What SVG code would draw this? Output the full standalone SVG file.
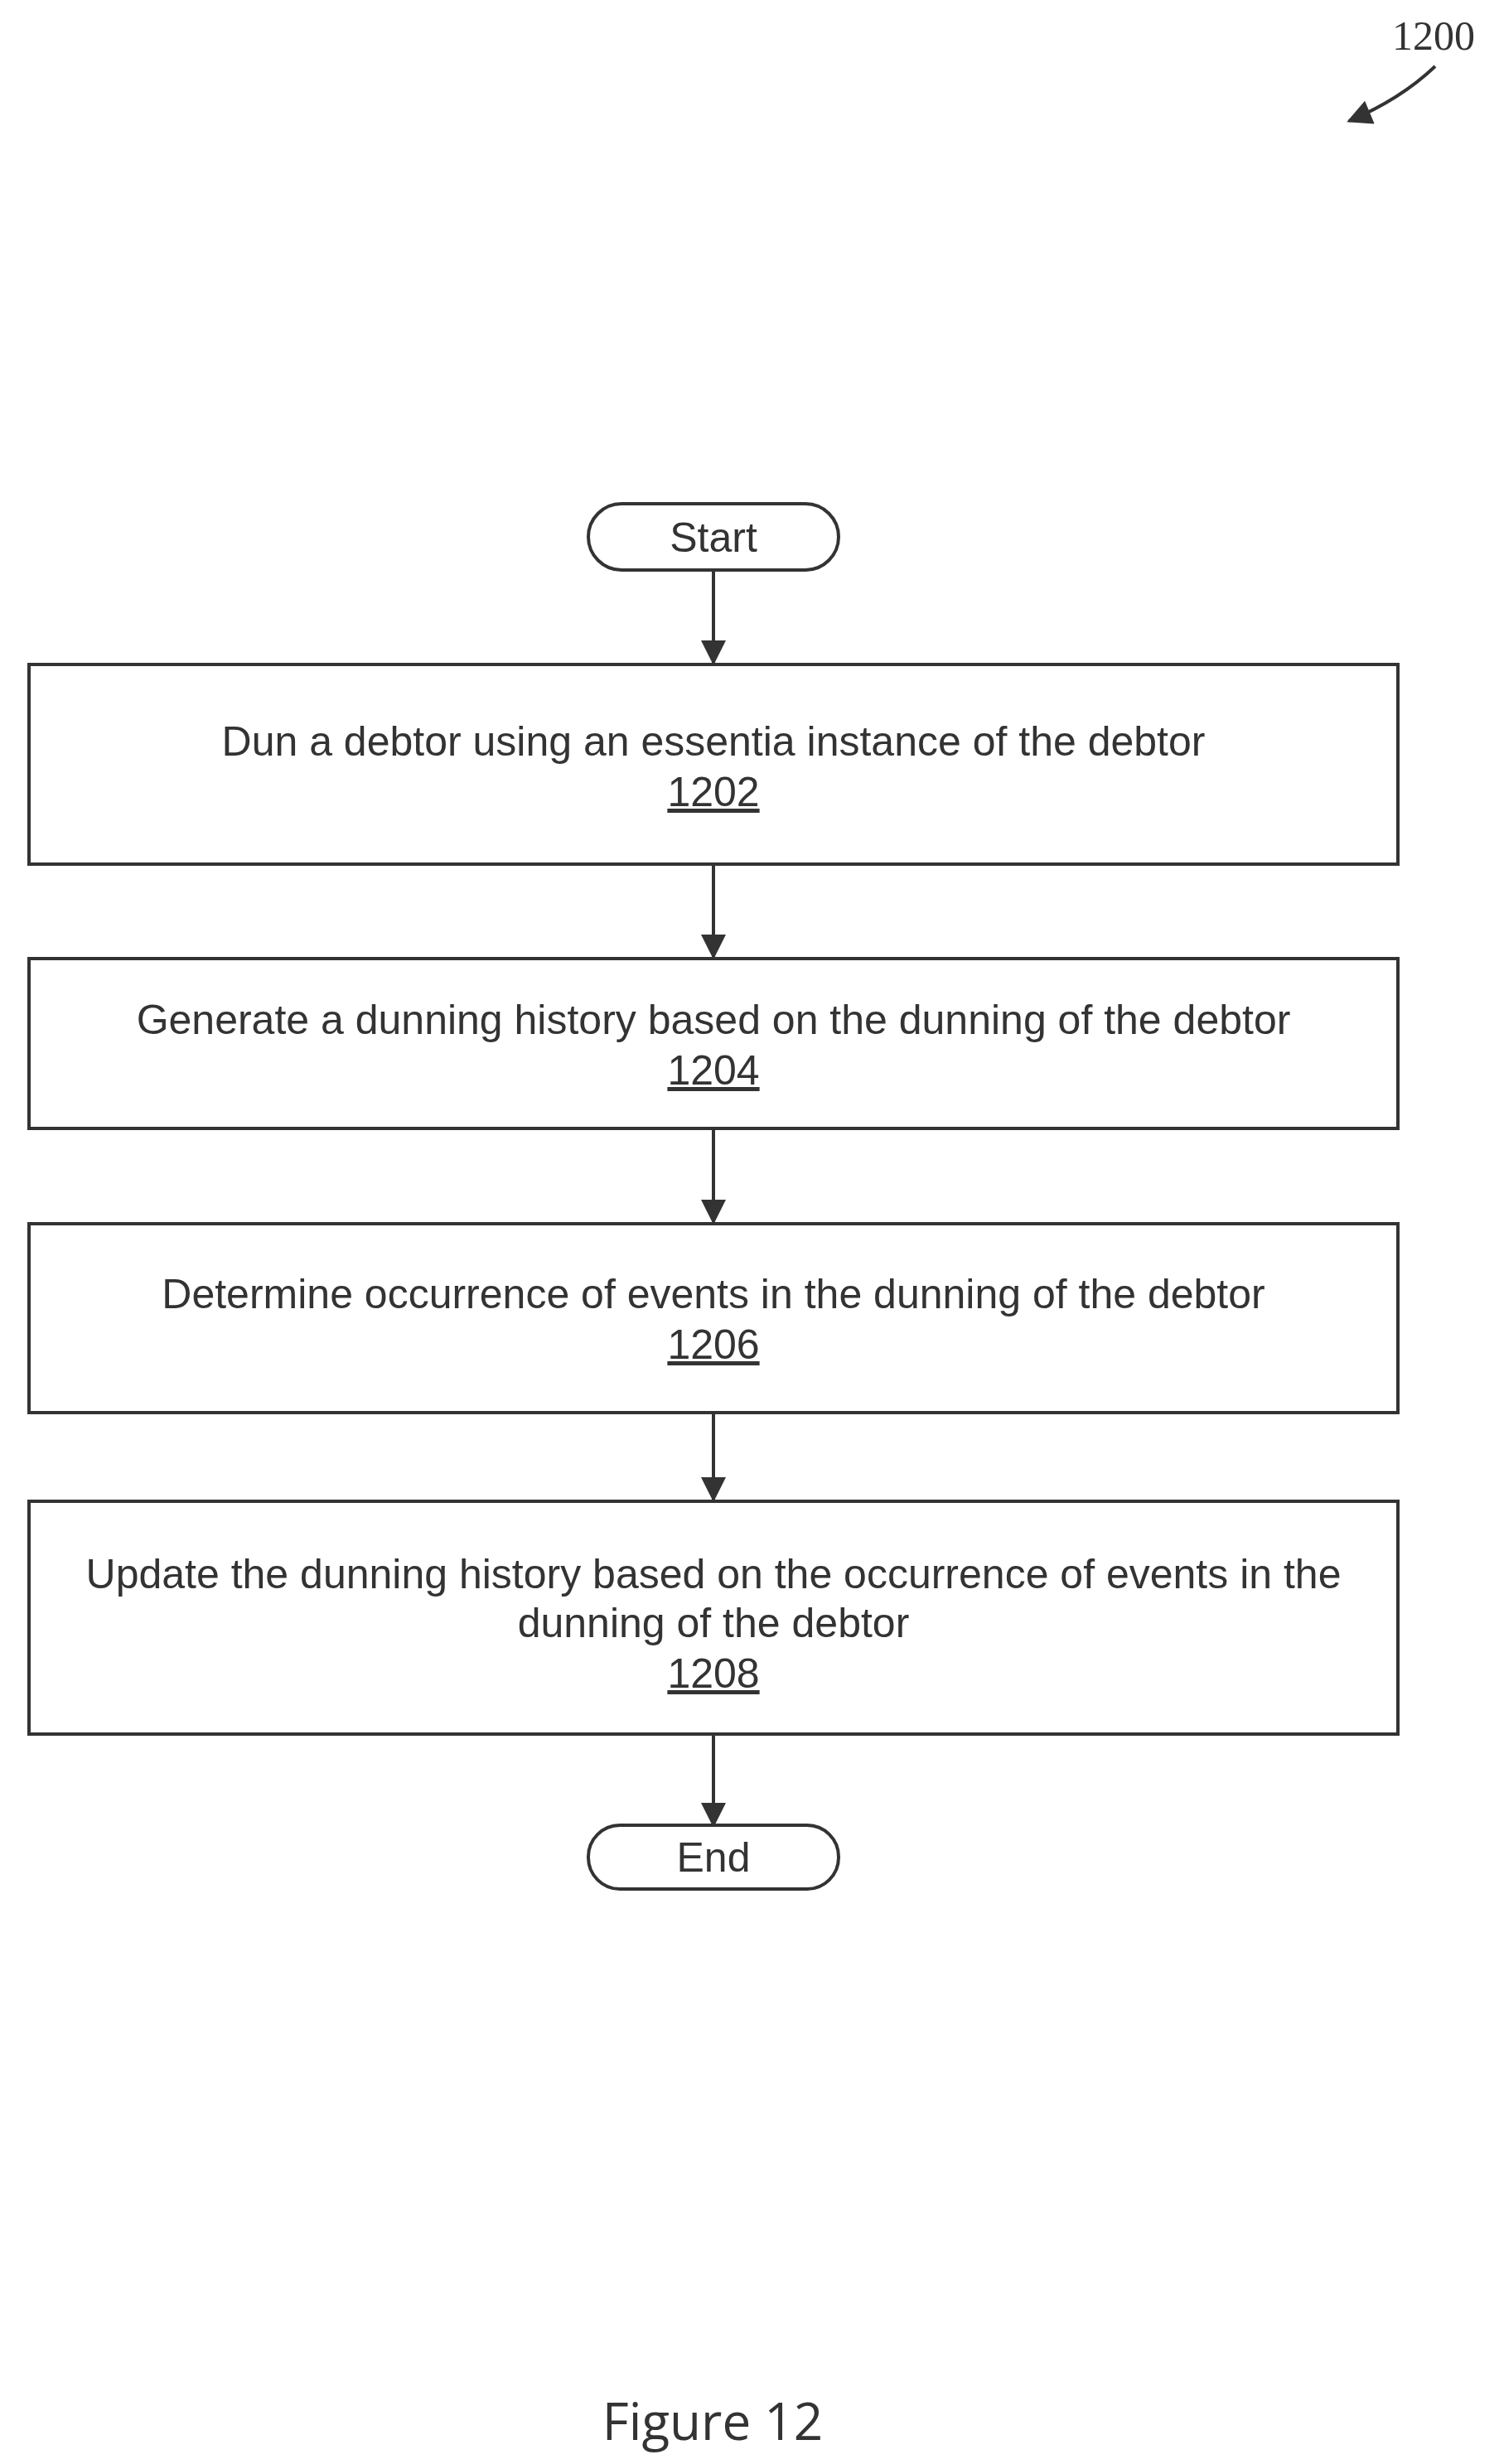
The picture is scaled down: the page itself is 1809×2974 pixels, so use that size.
<svg xmlns="http://www.w3.org/2000/svg" width="1809" height="2974" viewBox="0 0 1809 2974">
<style>
.b{fill:#fff;stroke:#333;stroke-width:4}
.t{font-family:"Liberation Sans",Arial,sans-serif;font-size:50px;fill:#333;text-anchor:middle}
.c{stroke:#333;stroke-width:4;fill:none}
</style>
<defs>
<marker id="ah" viewBox="0 0 10 10" refX="9" refY="5" markerWidth="34" markerHeight="30" orient="auto" markerUnits="userSpaceOnUse"><path d="M0,0L10,5L0,10z" fill="#333"/></marker></defs>
<rect width="1809" height="2974" fill="#fff"/>
<g id="ref"><text x="1730" y="60" font-family="Liberation Serif,serif" font-size="50" fill="#333" text-anchor="middle">1200</text>
<path d="M1732,80 Q1690,120 1628,146" class="c" marker-end="url(#ah)"/></g>
<g id="connectors">
<line x1="861" y1="688" x2="861" y2="800" class="c" marker-end="url(#ah)"/>
<line x1="861" y1="1043" x2="861" y2="1155" class="c" marker-end="url(#ah)"/>
<line x1="861" y1="1362" x2="861" y2="1475" class="c" marker-end="url(#ah)"/>
<line x1="861" y1="1705" x2="861" y2="1810" class="c" marker-end="url(#ah)"/>
<line x1="861" y1="2093" x2="861" y2="2203" class="c" marker-end="url(#ah)"/>
</g>
<g id="start"><rect x="710" y="608" width="302" height="80" rx="40" class="b"/><text x="861" y="666" class="t">Start</text></g>
<g id="n1202"><rect x="35" y="802" width="1652" height="241" class="b"/>
<text x="861" y="912" class="t">Dun a debtor using an essentia instance of the debtor</text>
<text x="861" y="973" class="t" text-decoration="underline">1202</text></g>
<g id="n1204"><rect x="35" y="1157" width="1652" height="205" class="b"/>
<text x="861" y="1248" class="t">Generate a dunning history based on the dunning of the debtor</text>
<text x="861" y="1309" class="t" text-decoration="underline">1204</text></g>
<g id="n1206"><rect x="35" y="1477" width="1652" height="228" class="b"/>
<text x="861" y="1579" class="t">Determine occurrence of events in the dunning of the debtor</text>
<text x="861" y="1640" class="t" text-decoration="underline">1206</text></g>
<g id="n1208"><rect x="35" y="1812" width="1652" height="281" class="b"/>
<text x="861" y="1917" class="t">Update the dunning history based on the occurrence of events in the</text>
<text x="861" y="1976" class="t">dunning of the debtor</text>
<text x="861" y="2037" class="t" text-decoration="underline">1208</text></g>
<g id="end"><rect x="710" y="2203" width="302" height="77" rx="38" class="b"/><text x="861" y="2259" class="t">End</text></g>
<text x="860" y="2945" font-family="Open Sans,Liberation Sans,sans-serif" font-size="62" fill="#333" text-anchor="middle">Figure 12</text>
</svg>
